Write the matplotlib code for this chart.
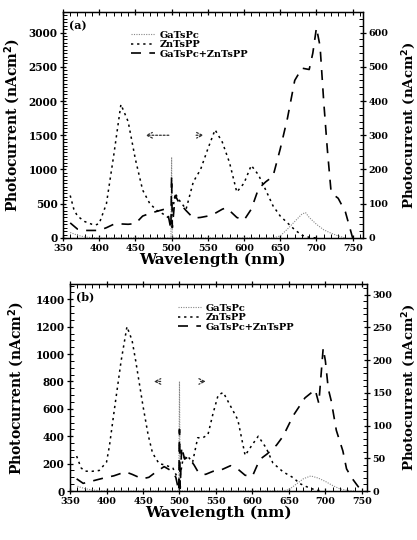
import matplotlib
matplotlib.use("Agg")
import matplotlib.pyplot as plt
from matplotlib.ticker import MultipleLocator

plt.rcParams['font.family'] = ['DejaVu Serif']
plt.rcParams['font.weight'] = 'bold'

# ---------------- Panel (a) data ----------------
a_ga_x = [360, 370, 380, 390, 400, 450, 499, 500, 501, 550, 600, 640, 650, 660, 670, 680, 685, 690, 700, 710, 720, 730, 740]
a_ga_y = [80, 40, 15, 5, 0, 0, 0, 1180, 0, 0, 0, 0, 30, 130, 240, 350, 370, 300, 200, 120, 70, 30, 0]

a_zn_x = [360, 365, 370, 380, 390, 395, 400, 410, 420, 430, 440, 450, 460, 470, 480, 490, 495, 500, 505, 510, 520, 530, 540, 550, 560, 570, 580, 590, 600, 610, 620, 630, 640, 650, 660, 670, 680, 690, 700]
a_zn_y = [620, 420, 320, 240, 200, 190, 210, 500, 1200, 1950, 1700, 1150, 700, 500, 400, 340, 300, 300, 650, 560, 420, 820, 1000, 1300, 1580, 1400, 1100, 670, 800, 1060, 920, 700, 470, 320, 220, 120, 40, 10, 0]

a_mix_x = [360, 370, 380, 390, 400, 410, 420, 430, 440, 450, 460, 470, 480, 490, 495, 499, 500, 501, 505, 510, 520, 530, 540, 550, 560, 570, 575, 580, 590, 600, 610, 620, 630, 640, 650, 660, 670, 680, 690, 695, 700, 705, 710, 715, 720, 725, 730, 740, 750]
a_mix_y = [220, 130, 110, 110, 110, 150, 200, 205, 200, 210, 320, 360, 390, 420, 350, 130, 900, 150, 620, 520, 400, 290, 300, 320, 360, 420, 440, 400, 300, 260, 420, 720, 820, 900, 1300, 1750, 2300, 2480, 2460, 2700, 3070, 2800, 2000, 1300, 700, 620, 580, 380, 0]

a_arrow_level = 1500
a_arrow_left = (500, 460)
a_arrow_right = (530, 548)

# ---------------- Panel (b) data ----------------
b_ga_x = [360, 370, 380, 390, 400, 450, 499, 500, 501, 550, 600, 640, 650, 660, 670, 680, 690, 700, 710, 720, 730, 740]
b_ga_y = [35, 18, 8, 3, 0, 0, 0, 800, 0, 0, 0, 0, 10, 50, 90, 110, 95, 70, 40, 15, 5, 0]

b_zn_x = [359, 365, 370, 380, 390, 400, 404, 410, 420, 428, 435, 440, 450, 457, 463, 472, 481, 491, 495, 500, 505, 511, 518, 525, 532, 539, 546, 553, 560, 570, 580, 590, 600, 608, 619, 628, 642, 656, 665, 674, 685, 695]
b_zn_y = [255, 170, 145, 144, 150, 211, 330, 566, 950, 1200, 1100, 950, 620, 411, 278, 200, 189, 167, 122, 80, 240, 255, 211, 389, 389, 411, 566, 700, 720, 620, 520, 260, 340, 400, 313, 205, 140, 97, 54, 32, 10, 0]

b_mix_x = [359, 368, 384, 400, 410, 426, 435, 449, 458, 469, 479, 490, 495, 499, 500, 501, 503, 507, 512, 520, 525, 529, 536, 546, 555, 570, 580, 590, 600, 610, 620, 633, 642, 656, 672, 686, 691, 697, 700, 704, 708, 715, 724, 729, 736, 745, 750]
b_mix_y = [89, 56, 78, 100, 111, 140, 122, 89, 100, 144, 178, 144, 100, 0, 450, 20, 322, 233, 250, 190, 144, 122, 122, 144, 149, 185, 160, 115, 108, 230, 270, 335, 400, 551, 680, 740, 640, 1044, 950, 745, 659, 443, 292, 162, 97, 32, 0]

b_arrow_level = 800
b_arrow_left = (478, 461)
b_arrow_right = (525, 540)

labels = ["GaTsPc", "ZnTsPP", "GaTsPc+ZnTsPP"]
ylabel_text = "Photocurrent (nAcm$^{\\mathbf{2}}$)"

fig = plt.figure(figsize=(4.17, 5.40), dpi=100)

def style_axes(ax, xlim, ylim, ymajor, yminor, rylim, rmajor, rminor, tag):
    ax.set_xlim(*xlim)
    ax.set_ylim(*ylim)
    ax.xaxis.set_major_locator(MultipleLocator(50))
    ax.xaxis.set_minor_locator(MultipleLocator(10))
    ax.yaxis.set_major_locator(MultipleLocator(ymajor))
    ax.yaxis.set_minor_locator(MultipleLocator(yminor))
    ax.tick_params(axis='both', which='major', direction='inout', length=5, width=0.9,
                   top=True, right=False, pad=1.5)
    ax.tick_params(axis='x', which='major', labelsize=6.8)
    ax.tick_params(axis='y', which='major', labelsize=7.6)
    ax.tick_params(axis='both', which='minor', direction='in', length=3, width=0.7,
                   top=True, right=False)
    for lab in ax.get_xticklabels() + ax.get_yticklabels():
        lab.set_fontweight('bold')
    for s in ax.spines.values():
        s.set_linewidth(1.0)
    ax.set_xlabel("Wavelength (nm)", fontsize=11, fontweight='bold', labelpad=0)
    ax.set_ylabel(ylabel_text, fontsize=10, fontweight='bold')
    ax.text(0.02, 0.965, tag, transform=ax.transAxes, fontsize=8, fontweight='bold',
            va='top', ha='left')
    r = ax.twinx()
    r.set_ylim(*rylim)
    r.yaxis.set_major_locator(MultipleLocator(rmajor))
    r.yaxis.set_minor_locator(MultipleLocator(rminor))
    r.tick_params(axis='y', which='major', direction='inout', length=5, width=0.9,
                  labelsize=6.8, pad=1.5)
    r.tick_params(axis='y', which='minor', direction='in', length=3, width=0.7)
    for lab in r.get_yticklabels():
        lab.set_fontweight('bold')
    r.set_ylabel(ylabel_text, fontsize=9.6, fontweight='bold')
    return r

def draw(ax, gx, gy, zx, zy, mx, my, lvl, al, ar):
    l1, = ax.plot(gx, gy, color='#888888', lw=0.8, linestyle=(0, (1, 1.2)))
    l2, = ax.plot(zx, zy, color='black', lw=1.1, linestyle=(0, (1.5, 2.5)))
    l3, = ax.plot(mx, my, color='black', lw=1.2, linestyle=(0, (6, 5)))
    ax.annotate("", xy=(al[1], lvl), xytext=(al[0], lvl),
                arrowprops=dict(arrowstyle='->', color='#333333', lw=0.9, linestyle=(0, (1.5, 1.5))))
    ax.annotate("", xy=(ar[1], lvl), xytext=(ar[0], lvl),
                arrowprops=dict(arrowstyle='->', color='#333333', lw=0.9, linestyle=(0, (1.5, 1.5))))
    return [l1, l2, l3]

# Panel (a)
axa = fig.add_axes([0.151, 0.5593, 0.719, 0.4185])
hs = draw(axa, a_ga_x, a_ga_y, a_zn_x, a_zn_y, a_mix_x, a_mix_y, a_arrow_level, a_arrow_left, a_arrow_right)
ra = style_axes(axa, (350, 764), (0, 3300), 500, 50, (0, 660), 100, 20, "(a)")
axa.yaxis.set_label_coords(-0.133, 0.5)
ra.yaxis.set_label_coords(1.125, 0.5)
axa.legend(hs, labels, loc='upper left', bbox_to_anchor=(0.215, 0.935), frameon=False,
           handlelength=2.4, handletextpad=0.5, labelspacing=0.05,
           borderaxespad=0, prop={'weight': 'bold', 'size': 7})

# Panel (b)
axb = fig.add_axes([0.168, 0.0907, 0.712, 0.383])
hs = draw(axb, b_ga_x, b_ga_y, b_zn_x, b_zn_y, b_mix_x, b_mix_y, b_arrow_level, b_arrow_left, b_arrow_right)
rb = style_axes(axb, (350, 757), (0, 1510), 200, 50, (0, 316), 50, 10, "(b)")
axb.yaxis.set_label_coords(-0.145, 0.5)
rb.yaxis.set_label_coords(1.112, 0.5)
axb.legend(hs, labels, loc='upper left', bbox_to_anchor=(0.35, 0.925), frameon=False,
           handlelength=2.4, handletextpad=0.5, labelspacing=0.05,
           borderaxespad=0, prop={'weight': 'bold', 'size': 7})

fig.savefig("out.png", dpi=100)
